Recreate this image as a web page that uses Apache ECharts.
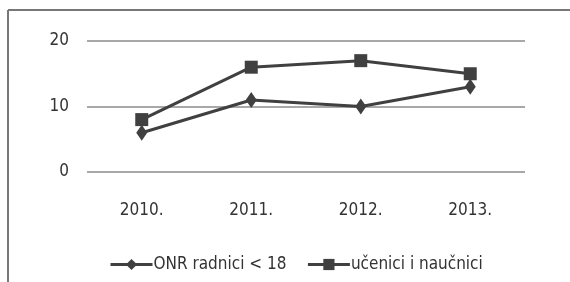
<!DOCTYPE html>
<html>
<head>
<meta charset="utf-8">
<script src="https://cdn.jsdelivr.net/npm/echarts@6/dist/echarts.min.js"></script>
<style>
  html, body { margin: 0; padding: 0; background: #fff; }
  #chart { width: 570px; height: 282px; }
</style>
</head>
<body>
<div id="chart"></div>
<script>
// podaci
const years = ['2010.', '2011.', '2012.', '2013.']
const onrRadnici = [6, 11, 10, 13]
const uceniciNaucnici = [8, 16, 17, 15]
const yTicks = [0, 10, 20]

const font = '"DejaVu Sans Condensed", "Liberation Sans Narrow", sans-serif'
const dark = '#404040'

const chart = echarts.init(document.getElementById('chart'))
chart.setOption({
  animation: false,
  backgroundColor: '#fff',
  graphic: [
    // okvir slike
    { type: 'line', shape: { x1: 8, y1: 10, x2: 570, y2: 10 }, style: { stroke: '#777', lineWidth: 2 } },
    { type: 'line', shape: { x1: 8, y1: 10, x2: 8, y2: 282 }, style: { stroke: '#777', lineWidth: 2 } }
  ],
  grid: {
    left: 87,
    right: 45,
    top: 41,
    bottom: 110
  },
  legend: {
    bottom: 4,
    left: 104,
    itemWidth: 42,
    itemHeight: 14,
    itemGap: 20,
    lineStyle: { width: 3 },
    textStyle: { fontFamily: font, fontSize: 17, color: '#333', padding: [0, 0, 0, -4] },
    data: ['ONR radnici < 18', 'učenici i naučnici']
  },
  xAxis: {
    type: 'category',
    data: years,
    boundaryGap: true,
    axisLine: { show: false },
    axisTick: { show: false },
    axisLabel: { fontFamily: font, fontSize: 17, color: '#333', margin: 30 }
  },
  yAxis: {
    type: 'value',
    min: yTicks[0],
    max: yTicks[yTicks.length - 1],
    interval: 10,
    axisLine: { show: false },
    axisTick: { show: false },
    axisLabel: { fontFamily: font, fontSize: 17, color: '#333', margin: 18 },
    splitLine: { lineStyle: { color: '#a8a8a8', width: 2 } }
  },
  series: [
    {
      name: 'ONR radnici < 18',
      type: 'line',
      data: onrRadnici,
      symbol: 'diamond',
      symbolSize: [11, 16],
      itemStyle: { color: dark },
      lineStyle: { color: dark, width: 3 }
    },
    {
      name: 'učenici i naučnici',
      type: 'line',
      data: uceniciNaucnici,
      symbol: 'rect',
      symbolSize: 13,
      itemStyle: { color: dark },
      lineStyle: { color: dark, width: 3 }
    }
  ]
})
</script>
</body>
</html>
